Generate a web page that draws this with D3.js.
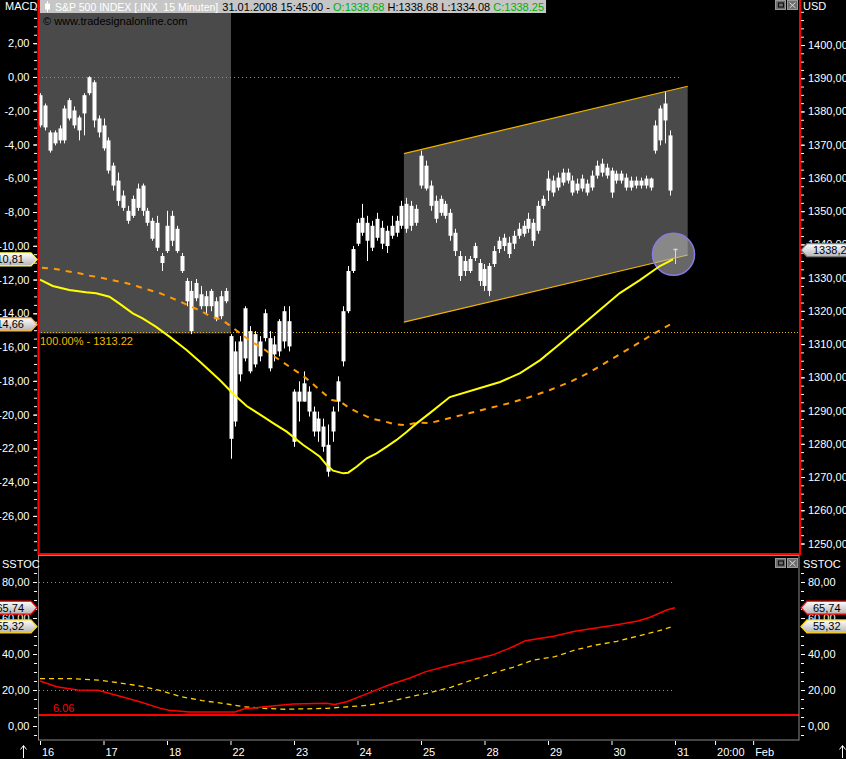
<!DOCTYPE html>
<html><head><meta charset="utf-8">
<script src="https://cdn.jsdelivr.net/npm/d3@7"></script>
<style>
html,body{margin:0;padding:0;background:#000;}
svg{display:block;font-family:"Liberation Sans",Arial,sans-serif;}
</style></head><body>
<svg id="c" width="846" height="759"></svg>
<script>
// ---------------- DATA ----------------
// 30-minute bars, index 0 = 16 Jan open; [open, high, low, close]
const candles = [
[1384.9,1385.5,1375.2,1375.8],[1381.8,1382.4,1374.3,1375.2],[1373.7,1374.3,1367.6,1368.2],[1370.4,1374.3,1369.8,1373.7],
[1371.3,1375.8,1370.4,1374.9],[1371.3,1381.8,1370.4,1380.9],[1377.9,1384.0,1377.3,1383.4],[1380.3,1381.5,1374.9,1375.8],
[1378.2,1378.8,1371.3,1374.3],[1379.4,1385.5,1372.8,1384.9],[1385.5,1390.6,1384.9,1390.3],[1388.8,1389.4,1375.2,1377.3],
[1377.9,1378.8,1372.2,1373.7],[1375.8,1377.9,1368.2,1368.9],[1371.3,1372.2,1361.3,1362.2],[1363.7,1364.6,1356.2,1357.7],
[1359.2,1361.6,1351.6,1353.1],[1354.7,1356.2,1350.1,1351.0],[1350.1,1351.6,1346.2,1347.1],[1348.6,1354.7,1348.0,1353.7],
[1351.0,1358.3,1350.1,1356.8],[1357.7,1358.3,1348.6,1350.1],[1350.1,1351.0,1345.6,1346.5],[1347.1,1348.0,1341.1,1341.7],
[1339.0,1348.6,1338.0,1346.5],[1336.5,1337.4,1332.0,1334.4],[1338.0,1350.1,1337.4,1345.6],[1341.1,1350.1,1339.5,1348.6],
[1344.7,1345.6,1337.4,1338.0],[1336.5,1337.4,1331.4,1332.0],[1329.0,1329.9,1321.4,1322.9],[1326.0,1329.0,1313.0,1313.9],
[1323.8,1329.6,1322.9,1328.4],[1325.0,1327.5,1320.5,1321.4],[1321.4,1326.0,1319.3,1324.4],[1321.4,1326.6,1319.9,1326.0],
[1322.9,1324.1,1316.9,1317.5],[1318.4,1326.0,1317.5,1324.4],[1322.9,1326.9,1322.3,1326.0],
[1312.4,1313.0,1275.5,1281.5],[1286.7,1310.8,1285.2,1307.8],[1300.9,1312.4,1298.8,1310.8],[1305.7,1321.4,1304.8,1320.8],
[1313.9,1315.4,1301.2,1301.8],[1303.9,1313.9,1303.0,1313.0],[1310.8,1312.4,1304.8,1306.3],[1311.8,1320.5,1310.8,1319.3],
[1311.8,1313.9,1301.8,1302.7],[1306.9,1312.4,1304.8,1309.9],[1307.8,1317.5,1306.3,1316.9],[1310.8,1321.4,1308.7,1319.9],
[1316.9,1321.4,1307.8,1309.3],
[1280.6,1296.4,1279.1,1295.7],[1295.7,1298.8,1286.7,1292.7],[1292.7,1301.8,1292.7,1298.2],[1295.7,1297.3,1288.2,1289.7],
[1289.7,1291.2,1282.2,1283.7],[1283.7,1289.7,1280.6,1287.6],[1285.2,1287.6,1277.6,1279.1],[1279.7,1285.8,1270.1,1271.6],
[1283.7,1291.2,1280.6,1289.7],[1292.7,1300.3,1289.7,1298.8],[1304.8,1321.4,1303.3,1319.9],[1319.9,1333.5,1319.3,1332.0],
[1332.0,1339.5,1331.4,1338.6],[1340.2,1347.7,1339.5,1346.5],[1343.5,1352.2,1342.6,1348.0],[1346.5,1348.6,1335.0,1341.1],
[1339.0,1347.1,1338.0,1345.6],[1342.0,1349.5,1341.1,1347.7],[1345.0,1347.1,1338.6,1340.2],[1339.5,1345.6,1337.4,1344.1],
[1342.6,1348.6,1341.7,1345.6],[1343.5,1348.6,1342.3,1347.1],[1345.6,1353.1,1344.7,1351.6],[1352.2,1354.0,1343.5,1344.7],
[1345.6,1353.1,1344.1,1351.6],[1350.7,1351.9,1345.6,1346.5],
[1357.7,1368.2,1356.8,1366.7],[1363.7,1365.2,1356.2,1356.8],[1357.7,1359.2,1350.1,1351.6],[1353.1,1354.7,1346.5,1347.7],
[1349.5,1354.7,1348.6,1353.7],[1352.2,1353.1,1347.7,1348.6],[1349.5,1350.7,1341.1,1342.6],[1343.5,1344.7,1336.5,1338.0],
[1336.5,1338.0,1329.0,1330.5],[1332.0,1336.5,1330.5,1335.0],[1335.6,1336.5,1331.4,1332.0],[1335.9,1340.5,1335.0,1339.5],
[1334.4,1335.6,1327.5,1329.0],[1332.6,1334.1,1326.0,1327.5],[1326.0,1334.4,1324.4,1333.5],[1334.1,1339.5,1333.2,1338.0],
[1338.6,1342.3,1337.4,1341.1],[1339.5,1343.2,1338.0,1342.0],[1340.5,1342.3,1335.9,1337.1],[1340.2,1344.1,1338.6,1342.6],
[1342.6,1346.5,1341.7,1344.7],[1343.2,1347.1,1342.3,1345.6],[1344.7,1349.5,1343.5,1347.7],[1346.5,1347.7,1339.5,1341.1],
[1344.1,1353.1,1343.2,1351.6],[1351.6,1354.7,1350.7,1353.7],
[1356.2,1362.2,1353.1,1359.8],[1359.2,1360.7,1354.4,1355.6],[1357.1,1361.6,1356.2,1360.1],[1358.6,1362.8,1357.7,1361.6],
[1361.6,1362.8,1358.3,1359.2],[1359.2,1360.7,1354.7,1355.6],[1356.2,1359.8,1355.3,1358.3],[1359.8,1361.0,1355.9,1356.8],
[1355.6,1359.5,1354.7,1358.3],[1357.1,1362.2,1356.2,1360.7],[1360.7,1365.2,1359.8,1363.7],[1361.6,1365.8,1360.4,1364.3],
[1363.1,1364.3,1359.8,1360.7],
[1362.2,1363.1,1354.0,1355.6],[1359.2,1362.2,1358.3,1361.3],[1361.3,1362.2,1358.3,1359.2],[1360.1,1361.3,1356.2,1357.1],
[1357.1,1360.4,1356.2,1359.2],[1359.2,1360.4,1356.8,1357.7],[1357.7,1360.1,1356.8,1359.2],[1357.7,1360.7,1356.8,1359.8],
[1359.8,1360.1,1356.2,1357.1],[1368.2,1377.3,1367.3,1375.8],[1371.3,1381.8,1369.8,1380.9],[1382.4,1385.8,1370.4,1377.3],
[1372.8,1374.3,1354.7,1356.2],[1338.68,1338.68,1334.08,1338.25]
];

// MACD (yellow) and signal (orange dashed) on left axis: [bar index, value]
const macdLine = [[0,-12.00],[2.6,-12.38],[6.0,-12.62],[9.4,-12.75],[11.5,-12.81],[14.2,-13.02],[16.2,-13.41],[19.0,-14.00],
[21.0,-14.30],[23.7,-14.79],[26.5,-15.38],[30.0,-16.17],[32.8,-16.88],[34.8,-17.42],[36.8,-17.95],[39.6,-18.78],[42.3,-19.49],
[45.7,-20.12],[47.8,-20.52],[50.5,-21.01],[53.9,-21.80],[55.9,-22.20],[57.3,-22.50],[58.7,-22.99],[60.0,-23.32],[62.1,-23.48],
[63.1,-23.44],[64.8,-23.09],[66.9,-22.59],[68.9,-22.29],[71.0,-21.90],[73.0,-21.50],[75.1,-21.01],[77.1,-20.52],[79.8,-19.91],
[83.9,-18.96],[90.1,-18.42],[94.2,-18.07],[98.3,-17.54],[102.4,-16.77],[106.4,-15.82],[110.5,-14.81],[114.6,-13.80],
[118.7,-12.80],[122.8,-12.03],[126.9,-11.20],[129.6,-10.81]];
const signalLine = [[0.4,-11.30],[3.1,-11.37],[5.3,-11.49],[7.8,-11.61],[10.2,-11.77],[12.5,-11.89],[14.7,-12.03],[17.4,-12.19],
[19.7,-12.38],[21.9,-12.58],[24.6,-12.81],[26.6,-13.05],[28.7,-13.31],[30.7,-13.57],[32.8,-13.84],[34.8,-14.16],[37.3,-14.40],
[39.3,-14.81],[41.4,-15.28],[43.4,-15.70],[45.4,-16.03],[47.5,-16.47],[49.5,-16.85],[51.6,-17.27],[53.6,-17.65],[55.3,-18.04],
[57.5,-18.60],[59.8,-19.14],[61.4,-19.22],[63.5,-19.64],[65.5,-19.93],[67.8,-20.23],[70.2,-20.38],[72.5,-20.56],[74.9,-20.62],
[77.4,-20.47],[79.8,-20.50],[83.9,-20.20],[88.0,-19.91],[92.1,-19.61],[96.2,-19.31],[100.3,-18.96],[104.4,-18.54],[108.5,-18.07],
[112.6,-17.48],[116.7,-16.77],[120.8,-16.06],[124.9,-15.34],[129.0,-14.66]];

// Slow stochastic: %K (red) and %D (yellow dashed)
const stochK = [[0,25],[3.4,21.8],[7.7,20],[11.9,19.8],[16.2,16.7],[20.4,13.5],[24.7,9.8],[26.4,8.7],[30.6,7.8],[39.9,7.8],
[41.7,9.4],[45.9,10.7],[51.8,12.2],[58.6,12.6],[60.3,12],[62.8,13.5],[67.1,18.1],[71.4,22.8],[75.6,26.5],[79,30.2],[84.1,33.9],
[88.4,36.7],[92.6,39.4],[96.8,44],[99.4,47.4],[105.4,50],[109.5,52.6],[113.8,54.4],[118.1,56.3],[122.4,58.3],[124.9,60.4],
[128.3,64.4],[130,65.74]];
const stochD = [[0,26.3],[6.8,26.3],[11.9,25.5],[16.2,24],[21.3,21.8],[24.7,19.6],[28.9,16.3],[33.2,14.1],[37.4,12.6],[41.7,10.7],
[45.9,9.8],[50.2,9.3],[58.6,9.8],[67.1,11.5],[71.4,13.5],[75.6,16.1],[79.8,18.5],[84.1,21.5],[88.4,25.5],[92.6,29.3],[96.8,32.6],
[101.1,36.7],[105.4,38.5],[109.5,42.2],[113.8,45],[118.1,47],[122.4,50],[126.6,52.8],[129.6,55.32]];
const stochLevel = 6.06;

// Drawing tools
const channelBars = [74.5, 132.6];
const channelTop = [1367.3, 1387.6];
const channelBottom = [1316.6, 1336.8];
const highlightEndBar = 39.1;
const fiboLevel = 1313.22;
const markerBar = 129.7, markerPrice = 1337.0;

// Axis ticks
const dayLabels = ["16","17","18","22","23","24","25","28","29","30","31","20:00","Feb"];
const dayTickBars = [0,13,26,39,52,65,78,91,104,117,130,138.2,146];
const macdTicks = [2,0,-2,-4,-6,-8,-10,-12,-14,-16,-18,-20,-22,-24,-26];
const priceTicks = [1400,1390,1380,1370,1360,1350,1340,1330,1320,1310,1300,1290,1280,1270,1260,1250];
const stochTicks = [80,60,40,20,0];

// ---------------- SCALES ----------------
const svg = d3.select("#c");
const FONT = '"Liberation Sans",Arial,sans-serif';
const xS = d3.scaleLinear().domain([0,130]).range([40,675]);
const yP = d3.scaleLinear().domain([1250,1400]).range([543.5,45]);
const yM = d3.scaleLinear().domain([-26,2]).range([515.9,43.2]);
const yS = d3.scaleLinear().domain([0,80]).range([726,582]);
const comma = v => v.toFixed(2).replace(".", ",");

svg.append("rect").attr("width",846).attr("height",759).attr("fill","#000");
const defs = svg.append("defs");
defs.append("clipPath").attr("id","mainClip").append("rect").attr("x",39).attr("y",0).attr("width",760).attr("height",553);
defs.append("clipPath").attr("id","lowClip").append("rect").attr("x",39).attr("y",556).attr("width",760).attr("height",184);
const grad = defs.append("linearGradient").attr("id","bg").attr("x1",0).attr("y1",0).attr("x2",0).attr("y2",1);
grad.append("stop").attr("offset","0%").attr("stop-color","#ffffff");
grad.append("stop").attr("offset","100%").attr("stop-color","#b4b4b4");

// ---------------- MAIN PANEL ----------------
const main = svg.append("g").attr("clip-path","url(#mainClip)");
main.append("rect").attr("x",38).attr("y",0)
  .attr("width", xS(highlightEndBar)-38).attr("height", yP(fiboLevel)).attr("fill","#4a4a4a");
const chan = [[channelBars[0],channelTop[0]],[channelBars[1],channelTop[1]],[channelBars[1],channelBottom[1]],[channelBars[0],channelBottom[0]]];
main.append("polygon").attr("points", chan.map(d=>[xS(d[0]),yP(d[1])].join(",")).join(" ")).attr("fill","#4a4a4a");

main.append("line").attr("x1",38).attr("x2",680).attr("y1",Math.round(yM(0))+0.5).attr("y2",Math.round(yM(0))+0.5)
  .attr("stroke","#8c8c8c").attr("stroke-dasharray","1,3");
main.append("line").attr("x1",38).attr("x2",800).attr("y1",Math.round(yP(fiboLevel))-0.5).attr("y2",Math.round(yP(fiboLevel))-0.5)
  .attr("stroke","#e8b400").attr("stroke-dasharray","1,2");

// candles
const cg = main.append("g");
cg.selectAll("line").data(candles).join("line")
  .attr("x1",(d,i)=>Math.round(xS(i))+0.5).attr("x2",(d,i)=>Math.round(xS(i))+0.5)
  .attr("y1",d=>yP(d[1])).attr("y2",d=>yP(d[2])).attr("stroke","#fff").attr("stroke-width",1);
cg.selectAll("rect").data(candles).join("rect")
  .attr("x",(d,i)=>Math.round(xS(i))-1.5).attr("width",4)
  .attr("y",d=>yP(Math.max(d[0],d[3])))
  .attr("height",d=>Math.max(1.5, yP(Math.min(d[0],d[3]))-yP(Math.max(d[0],d[3]))))
  .attr("fill","#fff");

// channel edges
main.append("line").attr("x1",xS(channelBars[0])).attr("x2",xS(channelBars[1])).attr("y1",yP(channelTop[0])).attr("y2",yP(channelTop[1]))
  .attr("stroke","#f0b400").attr("stroke-width",1.2);
main.append("line").attr("x1",xS(channelBars[0])).attr("x2",xS(channelBars[1])).attr("y1",yP(channelBottom[0])).attr("y2",yP(channelBottom[1]))
  .attr("stroke","#f0b400").attr("stroke-width",1.2);

// marker circle
main.append("circle").attr("cx",xS(markerBar)).attr("cy",yP(markerPrice)).attr("r",21)
  .attr("fill","#bcbcbc").attr("fill-opacity",0.55).attr("stroke","#8c7ae6").attr("stroke-width",1.5);

// MACD lines
const lm = d3.line().x(d=>xS(d[0])).y(d=>yM(d[1]));
main.append("path").attr("d",lm(signalLine)).attr("fill","none").attr("stroke","#ff9a00").attr("stroke-width",2).attr("stroke-dasharray","6,6");
main.append("path").attr("d",lm(macdLine)).attr("fill","none").attr("stroke","#ffff00").attr("stroke-width",2);

main.append("text").attr("x",40).attr("y",yP(fiboLevel)+12).attr("fill","#f5b800").attr("font-size",11).attr("font-family",FONT)
  .text("100.00% - " + fiboLevel.toFixed(2));

// header
const hdr = svg.append("g");
const hbox = hdr.append("rect").attr("x",40).attr("y",0).attr("height",13).attr("fill","#c6c6c6");
hdr.append("line").attr("x1",47.5).attr("x2",47.5).attr("y1",1).attr("y2",12).attr("stroke","#fff");
hdr.append("rect").attr("x",45).attr("y",3.5).attr("width",5).attr("height",6).attr("fill","#fff");
const t1 = hdr.append("text").attr("x",55).attr("y",10.5).attr("fill","#fff").attr("font-size",10.5).attr("font-family",FONT)
  .text("S&P 500 INDEX [.INX\u00a0\u00a015 Minuten]");
const t1b = t1.node().getBBox();
const last = candles[candles.length-1];
const ht = hdr.append("text").attr("x",t1b.x+t1b.width+4).attr("y",10.5).attr("font-size",11).attr("font-family",FONT).style("white-space","pre");
ht.append("tspan").attr("fill","#000").text("31.01.2008 15:45:00 - ");
ht.append("tspan").attr("fill","#00b000").text("O:" + last[0].toFixed(2));
ht.append("tspan").attr("fill","#000").text(" H:" + last[1].toFixed(2) + " L:" + last[2].toFixed(2) + " ");
ht.append("tspan").attr("fill","#00b000").text("C:" + last[3].toFixed(2));
const bb = ht.node().getBBox();
hbox.attr("width", bb.x + bb.width + 2 - 40);
svg.append("text").attr("x",43).attr("y",25).attr("fill","#000").attr("font-size",11).attr("font-family",FONT).text("\u00a9 www.tradesignalonline.com");

// ---------------- LOWER PANEL ----------------
const low = svg.append("g").attr("clip-path","url(#lowClip)");
[80,20].forEach(v=>{
  low.append("line").attr("x1",39).attr("x2",675).attr("y1",Math.round(yS(v))+0.5).attr("y2",Math.round(yS(v))+0.5)
    .attr("stroke","#8c8c8c").attr("stroke-dasharray","1,3");
});
low.append("line").attr("x1",39).attr("x2",800).attr("y1",yS(stochLevel)).attr("y2",yS(stochLevel)).attr("stroke","#ff0000").attr("stroke-width",2);
const ls = d3.line().x(d=>xS(d[0])).y(d=>yS(d[1]));
low.append("path").attr("d",ls(stochD)).attr("fill","none").attr("stroke","#ffd000").attr("stroke-width",1.3).attr("stroke-dasharray","5,4");
low.append("path").attr("d",ls(stochK)).attr("fill","none").attr("stroke","#ff0000").attr("stroke-width",1.5);
low.append("text").attr("x",53).attr("y",yS(stochLevel)-3).attr("fill","#ff0000").attr("font-size",11).attr("font-family",FONT).text(stochLevel.toFixed(2));
svg.append("rect").attr("x",38.5).attr("y",555.5).attr("width",760.5).attr("height",184.5).attr("fill","none").attr("stroke","#8a8a8a");

// main frame (red)
svg.append("path").attr("d","M38.5,0 V554 H800 V0").attr("fill","none").attr("stroke","#ff0000").attr("stroke-width",2);

// ---------------- AXES ----------------
function styleAxis(g){
  g.select(".domain").remove();
  g.selectAll("line").attr("stroke","#fff");
  g.selectAll("text").attr("fill","#fff").attr("font-size",11).attr("font-family",FONT);
}
function range(a,b,s){const r=[];for(let v=a;v<=b+1e-9;v+=s)r.push(+v.toFixed(4));return r;}
const minorM = range(-28,4,0.5).filter(v=>yM(v)>8 && yM(v)<551);
const minorP = range(1240,1410,2.5).filter(v=>yP(v)>8 && yP(v)<551);
const minorS = range(-5,85,5).filter(v=>yS(v)>560 && yS(v)<739);

svg.append("g").attr("transform","translate(37,0)").call(d3.axisLeft(yM).tickValues(minorM).tickFormat("").tickSize(3)).call(styleAxis);
svg.append("g").attr("transform","translate(37,0)").call(d3.axisLeft(yM).tickValues(macdTicks).tickFormat(comma).tickSize(4).tickPadding(3.5)).call(styleAxis);
svg.append("g").attr("transform","translate(801,0)").call(d3.axisRight(yP).tickValues(minorP).tickFormat("").tickSize(3)).call(styleAxis);
svg.append("g").attr("transform","translate(801,0)").call(d3.axisRight(yP).tickValues(priceTicks).tickFormat(comma).tickSize(4).tickPadding(3)).call(styleAxis);
svg.append("g").attr("transform","translate(37,0)").call(d3.axisLeft(yS).tickValues(minorS).tickFormat("").tickSize(3)).call(styleAxis);
svg.append("g").attr("transform","translate(37,0)").call(d3.axisLeft(yS).tickValues(stochTicks).tickFormat(comma).tickSize(4).tickPadding(3.5)).call(styleAxis);
svg.append("g").attr("transform","translate(801,0)").call(d3.axisRight(yS).tickValues(minorS).tickFormat("").tickSize(3)).call(styleAxis);
svg.append("g").attr("transform","translate(801,0)").call(d3.axisRight(yS).tickValues(stochTicks).tickFormat(comma).tickSize(4).tickPadding(3)).call(styleAxis);

const xa = svg.append("g").attr("transform","translate(0,741)")
  .call(d3.axisBottom(xS).tickValues(dayTickBars).tickFormat((d,i)=>dayLabels[i]).tickSize(4).tickPadding(3)).call(styleAxis);
xa.selectAll("text").attr("text-anchor","start").attr("x",1.5);

// arrows
[23,842].forEach(x=>{
  svg.append("path").attr("d",`M${x+0.5},758 V746 M${x-2.5},749.5 L${x+0.5},745.5 L${x+3.5},749.5`).attr("stroke","#fff").attr("fill","none");
});

// panel labels
const lab = (x,y,t,anchor)=>svg.append("text").attr("x",x).attr("y",y).attr("fill","#fff").attr("font-size",11)
  .attr("font-family",FONT).attr("text-anchor",anchor||"start").text(t);
lab(5,10,"MACD"); lab(803,10,"USD"); lab(2,568,"SSTOC"); lab(803,568,"SSTOC");

// buttons
function buttons(y){
  const g = svg.append("g");
  g.append("rect").attr("x",775.5).attr("y",y+0.5).attr("width",10).attr("height",9).attr("fill","#6e6e6e").attr("stroke","#9a9a9a");
  g.append("rect").attr("x",778.5).attr("y",y+3).attr("width",5).attr("height",4).attr("fill","none").attr("stroke","#111").attr("stroke-width",1.2);
  g.append("rect").attr("x",787.5).attr("y",y+0.5).attr("width",10).attr("height",9).attr("fill","#6e6e6e").attr("stroke","#9a9a9a");
  g.append("path").attr("d",`M789.5,${y+2.5} L795.5,${y+8} M795.5,${y+2.5} L789.5,${y+8}`).attr("stroke","#ddd");
}
buttons(0); buttons(558);

// value badges
function leftBadge(y, txt, border){
  svg.append("path").attr("d",`M-5,${y-6.5} H31 L37,${y} L31,${y+6.5} H-5 Z`).attr("fill","url(#bg)").attr("stroke",border).attr("stroke-width",1.2);
  svg.append("text").attr("x",24).attr("y",y+4).attr("text-anchor","end").attr("fill","#000").attr("font-size",11).attr("font-family",FONT).text(txt);
}
function rightBadge(y, txt, border){
  svg.append("path").attr("d",`M801,${y} L807,${y-6.5} H852 V${y+6.5} H807 Z`).attr("fill","url(#bg)").attr("stroke",border).attr("stroke-width",1.2);
  svg.append("text").attr("x",813).attr("y",y+4).attr("fill","#000").attr("font-size",11).attr("font-family",FONT).text(txt);
}
const macdLast = macdLine[macdLine.length-1][1], sigLast = signalLine[signalLine.length-1][1];
leftBadge(yM(macdLast), comma(macdLast), "#ffff60");
leftBadge(yM(sigLast), comma(sigLast), "#ffb040");
rightBadge(yP(last[3]), comma(last[3]), "#7a7a7a");
const kLast = stochK[stochK.length-1][1], dLast = stochD[stochD.length-1][1];
leftBadge(yS(kLast), comma(kLast), "#ff0000");
leftBadge(yS(dLast), comma(dLast), "#ffd000");
rightBadge(yS(kLast), comma(kLast), "#ff0000");
rightBadge(yS(dLast), comma(dLast), "#ffd000");
</script>
</body></html>
